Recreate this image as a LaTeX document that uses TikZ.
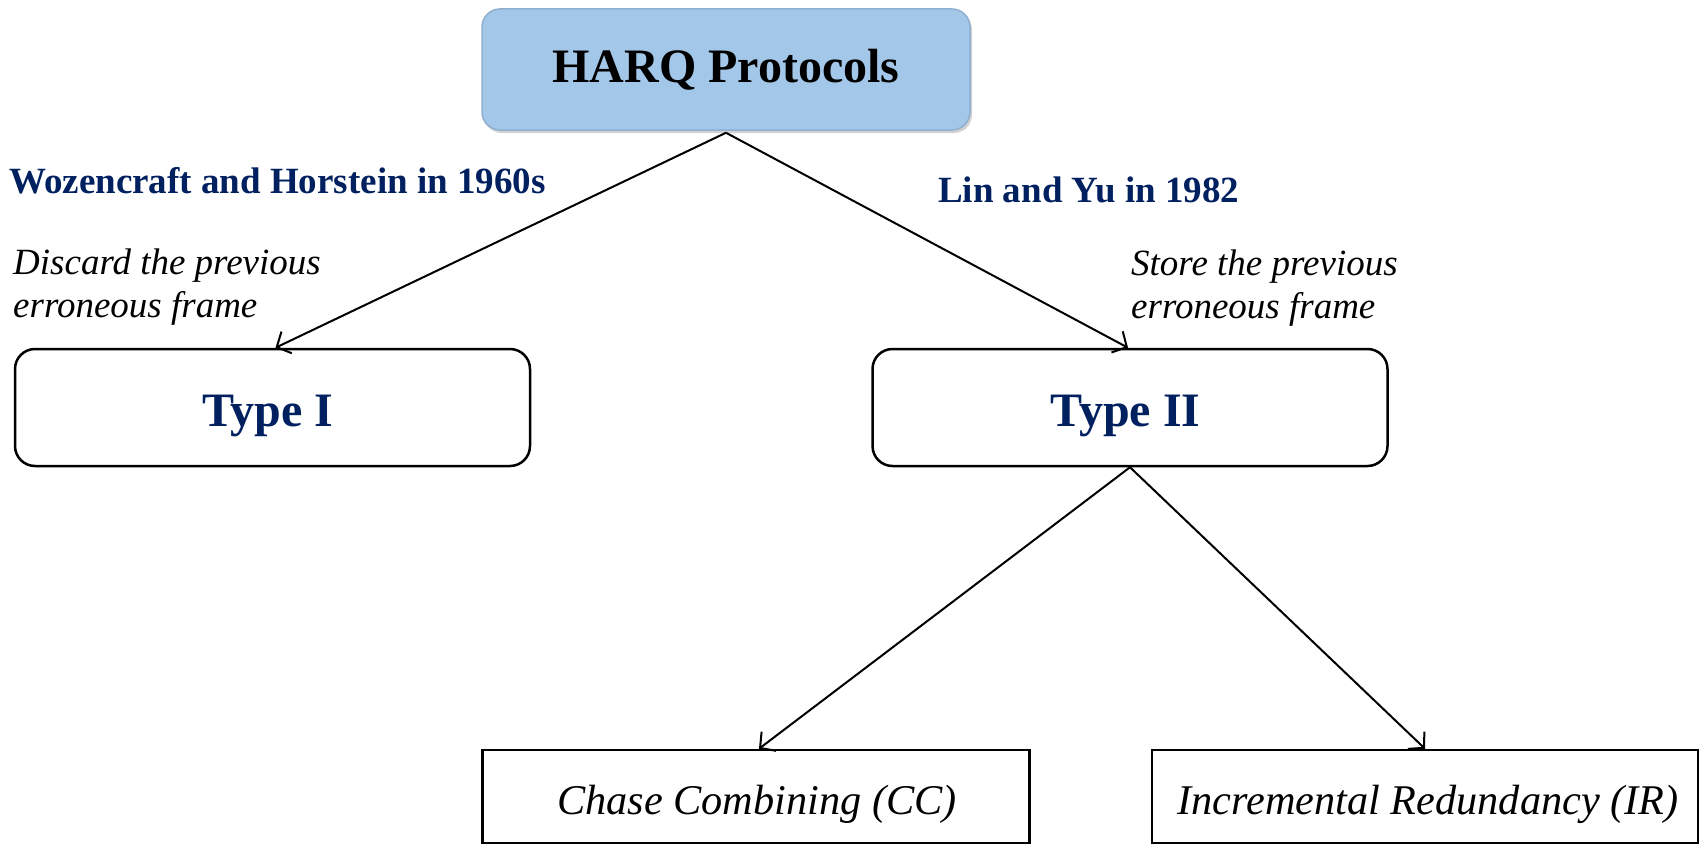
\documentclass[tikz,border=0pt]{standalone}
\usepackage{fontspec}
\setmainfont{Liberation Serif}
\usetikzlibrary{arrows.meta,shadows}
\definecolor{navy}{HTML}{002060}
\definecolor{harqfill}{HTML}{A3C7E9}
\definecolor{harqedge}{HTML}{8FAFCF}
\tikzset{
  toptype/.style={rectangle, rounded corners=18pt, fill=harqfill, draw=harqedge, line width=1.5pt,
    minimum width=488pt, minimum height=121pt, inner sep=0pt,
    drop shadow={shadow xshift=2pt, shadow yshift=-3pt, fill=gray!70, opacity=.5},
    font=\fontsize{48}{56}\selectfont\bfseries},
  typebox/.style={rectangle, rounded corners=20pt, draw=black, line width=2.5pt, fill=white,
    minimum width=515pt, minimum height=117pt, inner sep=0pt},
  typetext/.style={text=navy, inner sep=0pt, font=\fontsize{48}{56}\selectfont\bfseries},
  leafbox/.style={rectangle, draw=black, line width=2.5pt, fill=white,
    minimum width=547pt, minimum height=93pt, inner sep=0pt},
  leaftext/.style={inner sep=0pt, font=\fontsize{42.3}{48}\selectfont\itshape},
  authorlbl/.style={text=navy, inner sep=0pt, font=\fontsize{37}{44}\selectfont\bfseries},
  notelbl/.style={inner sep=0pt, align=left, font=\fontsize{37}{43}\selectfont\itshape},
  link/.style={draw=black, line width=2pt, -{Straight Barb[length=11pt,width=24pt,line width=2pt]}}
}
\begin{document}
\begin{tikzpicture}[x=1pt,y=-1pt]
\useasboundingbox (0,0) rectangle (1700,851);
\node[toptype] (harq) at (726,69.5) {HARQ Protocols};
\node[typebox] (t1) at (272.5,407.5) {};
\node[typetext] (t1txt) at (268,416) {Type I};
\node[typebox] (t2) at (1130,407.5) {};
\node[typetext] (t2txt) at (1125.5,416) {Type II};
\node[leafbox] (cc) at (756,796.5) {};
\node[leaftext] (cctxt) at (757,804) {Chase Combining (CC)};
\node[leafbox, minimum width=546pt] (ir) at (1425,796.5) {};
\node[leaftext] (irtxt) at (1428,804) {Incremental Redundancy (IR)};

\node[authorlbl, anchor=base west] (wh) at (9,193) {Wozencraft and Horstein in 1960s};
\node[authorlbl, anchor=base west] (ly) at (938,202) {Lin and Yu in 1982};
\node[notelbl, anchor=north west] (dis) at (13,249) {Discard the previous\\erroneous frame};
\node[notelbl, anchor=north west] (sto) at (1131,250) {Store the previous\\erroneous frame};

\coordinate (hs) at ([yshift=-2pt]harq.south);
\draw[link] (hs) -- ([xshift=3pt]t1.north);
\draw[link] (hs) -- ([xshift=-2pt]t2.north);
\draw[link] (t2.south) -- ([xshift=3pt]cc.north);
\draw[link] (t2.south) -- (ir.north);
\end{tikzpicture}
\end{document}
